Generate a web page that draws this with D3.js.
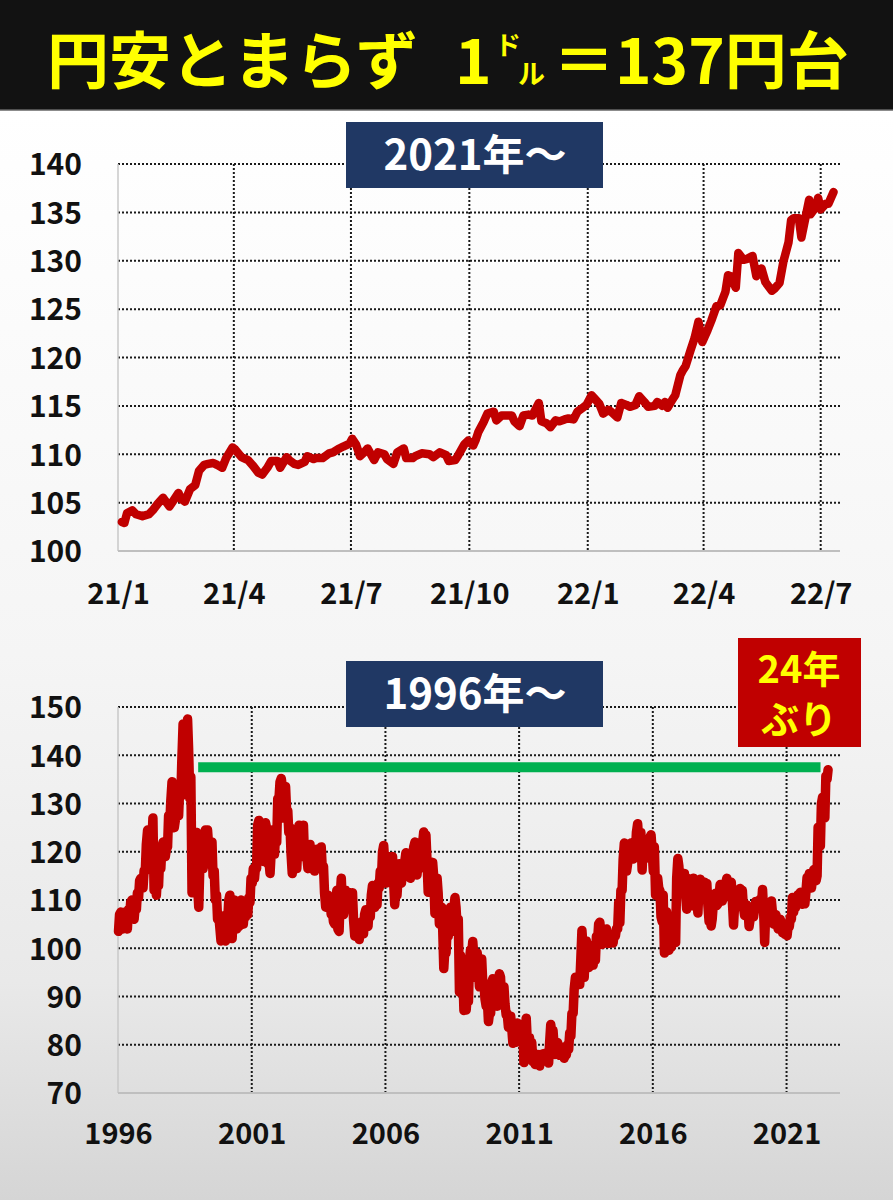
<!DOCTYPE html>
<html><head><meta charset="utf-8">
<script src="https://cdn.jsdelivr.net/npm/d3@7"></script>
<style>
html,body{margin:0;padding:0;background:#fff;}
svg{display:block;font-family:"Noto Sans CJK JP","Noto Sans",sans-serif;}
</style>
</head><body>
<svg id="c" width="893" height="1200"></svg>
<script>
// ---------- text ----------
const titleLeft = "円安とまらず";
const titleOne = "1";
const titleDo = "ド";
const titleRu = "ル";
const titleRight = "＝137円台";
const topLabel = "2021年〜";
const bottomLabel = "1996年〜";
const badgeLines = ["24年", "ぶり"];

// ---------- top chart (2021〜) ----------
const topYTicks = [100, 105, 110, 115, 120, 125, 130, 135, 140];
const topXTickDates = ["2021-01-01","2021-04-01","2021-07-01","2021-10-01","2022-01-01","2022-04-01","2022-07-01"];
const topXTickLabels = ["21/1","21/4","21/7","21/10","22/1","22/4","22/7"];
const topDates = [
"2021-01-04","2021-01-06","2021-01-08","2021-01-12","2021-01-15","2021-01-20","2021-01-25","2021-01-28",
"2021-02-01","2021-02-05","2021-02-10","2021-02-12","2021-02-17","2021-02-19","2021-02-22","2021-02-26",
"2021-03-02","2021-03-05","2021-03-09","2021-03-12","2021-03-16","2021-03-19","2021-03-23","2021-03-26","2021-03-31",
"2021-04-02","2021-04-07","2021-04-12","2021-04-16","2021-04-20","2021-04-23","2021-04-27","2021-04-30",
"2021-05-05","2021-05-07","2021-05-12","2021-05-14","2021-05-18","2021-05-21","2021-05-26","2021-05-28",
"2021-06-02","2021-06-04","2021-06-09","2021-06-14","2021-06-17","2021-06-22","2021-06-25","2021-06-30",
"2021-07-02","2021-07-05","2021-07-08","2021-07-12","2021-07-14","2021-07-19","2021-07-22","2021-07-27","2021-07-29",
"2021-08-03","2021-08-06","2021-08-11","2021-08-13","2021-08-18","2021-08-20","2021-08-25","2021-08-31",
"2021-09-03","2021-09-08","2021-09-13","2021-09-15","2021-09-20","2021-09-22","2021-09-27","2021-09-30",
"2021-10-04","2021-10-06","2021-10-08","2021-10-12","2021-10-15","2021-10-20","2021-10-22","2021-10-26","2021-10-29",
"2021-11-03","2021-11-05","2021-11-09","2021-11-12","2021-11-16","2021-11-19","2021-11-24","2021-11-26","2021-11-30",
"2021-12-03","2021-12-07","2021-12-10","2021-12-14","2021-12-17","2021-12-21","2021-12-24","2021-12-28","2021-12-31",
"2022-01-04","2022-01-06","2022-01-10","2022-01-13","2022-01-17","2022-01-20","2022-01-24","2022-01-27","2022-01-31",
"2022-02-03","2022-02-07","2022-02-10","2022-02-14","2022-02-17","2022-02-22","2022-02-24","2022-02-28",
"2022-03-02","2022-03-04","2022-03-08","2022-03-10","2022-03-14","2022-03-16","2022-03-18","2022-03-22","2022-03-25","2022-03-28","2022-03-31",
"2022-04-04","2022-04-07","2022-04-11","2022-04-14","2022-04-18","2022-04-20","2022-04-22","2022-04-26","2022-04-28",
"2022-05-02","2022-05-05","2022-05-09","2022-05-12","2022-05-16","2022-05-19","2022-05-24","2022-05-26","2022-05-30",
"2022-06-02","2022-06-06","2022-06-08","2022-06-10","2022-06-14","2022-06-16","2022-06-20","2022-06-22","2022-06-23","2022-06-27","2022-06-29",
"2022-07-01","2022-07-05","2022-07-07","2022-07-11"];
const topValues = [
103.0,102.9,103.9,104.2,103.8,103.6,103.8,104.2,
104.9,105.5,104.6,105.0,106.0,105.4,105.1,106.4,
106.8,108.3,108.9,109.0,109.1,108.9,108.6,109.6,110.7,
110.5,109.7,109.4,108.8,108.1,107.9,108.6,109.3,
109.3,108.6,109.7,109.4,109.0,108.9,109.2,109.8,
109.5,109.6,109.6,110.1,110.2,110.6,110.8,111.1,
111.6,111.0,109.8,110.3,110.6,109.4,110.2,110.0,109.5,
109.0,110.2,110.6,109.6,109.6,109.8,110.1,110.0,
109.7,110.2,109.9,109.3,109.4,109.8,111.0,111.4,
110.9,111.5,112.3,113.3,114.2,114.4,113.5,114.0,114.0,
114.0,113.4,112.9,114.0,114.1,114.0,115.3,113.4,113.2,
112.8,113.5,113.4,113.6,113.7,113.6,114.4,114.8,115.1,
116.1,115.8,115.2,114.2,114.6,114.3,113.8,115.3,115.1,
114.9,115.1,116.0,115.4,114.9,115.0,115.4,115.0,
115.4,114.8,115.7,116.1,118.2,118.7,119.1,120.8,122.0,123.7,121.6,
122.8,123.8,125.3,125.4,126.8,128.5,128.4,127.2,130.8,
130.1,130.2,130.5,128.4,129.2,127.8,126.9,127.1,127.7,
129.9,131.9,134.2,134.4,134.4,132.4,135.0,136.3,134.8,135.5,136.5,
135.3,135.9,135.9,137.1];

// ---------- bottom chart (1996〜) ----------
const longYTicks = [70, 80, 90, 100, 110, 120, 130, 140, 150];
const longXTickYears = [1996, 2001, 2006, 2011, 2016, 2021];
const longYears = [1996,1997,1998,1999,2000,2001,2002,2003,2004,2005,2006,2007,2008,2009,2010,2011,2012,2013,2014,2015,2016,2017,2018,2019,2020,2021,2022];
// intramonth swing value (early in month) and month close, one row per year
const longSwing = [
[103.5,107.5,104,107.5,104,107,110,106,108,110.5,114.5,112.5],
[116,124.5,120,122,112,111,113,116.5,122,119,121,125.5],
[134.5,125,128,127.5,131.5,146.5,137,147.5,131,111.5,114,124],
[108.5,122,116.5,124.5,124.5,117.5,122,116,111,107,101.5,105],
[101.5,106,111,102,110,104,104.5,110,105,106.5,107,109.5],
[113.5,114.5,116.5,126.5,122.5,118,126,117.5,115.5,124.5,119.5,122],
[131,135.2,127,133.5,128.5,125,115.5,121,116.5,125.5,119,125.5],
[121.5,116.5,121.5,117,116,120.5,117.5,121,117,108.5,111,110],
[107.5,105,112,103.5,114.5,107,112,108.5,111.5,111.5,102.5,105],
[101.8,105.5,103,108,104.5,106.5,113,108.5,109,112.5,114.5,121.3],
[113.5,119,115.5,119,109,111,117.5,113.5,115,119.8,118,114.5],
[118.5,122,115.2,116.5,118.5,124.1,123.5,111.6,113.5,117.8,107.2,114.5],
[105,108.5,95.8,99,102.5,108.5,103.5,110.5,104,90.9,93.5,87.1],
[87.2,89,99.7,101.4,94,99,92,97.8,92.5,88,84.8,86.5],
[93.7,88.5,88,94.7,89,92,86.2,83.6,85.9,80.3,80.5,84.5],
[83.5,84,76.3,85.5,80,80,76.5,75.9,78,75.6,76.5,78.2],
[77.5,76.2,84.2,83,78,80.5,77.8,79.5,77.2,78,79.1,81.8],
[86.5,94,92.5,92.5,103.7,94,101.5,96,100.5,96.5,97.5,101.5],
[105.4,100.8,101,104,101,102.8,101.1,102.5,104,105.3,112,121.8],
[116,120.5,121.8,118.5,119.5,125.8,121,116.2,118.5,121.5,120.5,123.5],
[115.9,111,114.5,111.9,105.5,99,107.5,99.6,100.2,101,101.2,118.6],
[112.5,114.9,115.5,108.1,114.4,108.8,114.5,108.6,107.3,114.3,110.8,113.7],
[113.4,105.5,104.6,109.5,111.4,109.2,113.2,109.8,110.5,114.5,111.4,113.7],
[104.8,109,112.1,112.4,112,106.8,109,104.5,108.4,106.5,109.7,109.7],
[110.2,112.2,101.2,109.4,105.9,109.8,105,107,104,106,103.2,102.9],
[102.6,104.5,106,107.5,108.5,111.1,111.6,109.1,109.2,114.7,115.5,112.5],
[116.3,114,125.1,121.2,131.3,127,135]
];
const longClose = [
[107,104.5,106.5,104.5,108,109.5,106.5,108.5,111.5,114,113.5,116],
[121.5,120.5,124,127,116.5,114.5,118.5,121,120.5,120.5,127.5,130.5],
[127,126.5,133.5,133,139,139,144.5,141.5,135.5,116,123,113.5],
[116.5,118.5,118.5,119.5,121.5,121,115,110,106,104.5,102,102],
[107,110,103,106.5,107.5,106,109.5,106.5,108,109,110.5,114.5],
[116.5,117,125.5,123.5,119,124.5,125,118.5,119.5,122,123.5,131],
[134.5,133.5,132.5,128.5,124,119.5,120,118.5,121.5,122.5,122.5,119],
[119,118,118,119,119,119.5,120,116.5,111.5,109.5,109.5,107],
[105.5,109,104,110.5,109.5,108.5,111.5,109.5,110.5,106,103,103],
[103.5,104.5,107,105,108,111,112.5,111,113.5,116,120,118],
[117,116,117.5,114,112.5,114.5,114.5,117.5,118,117,115.5,119],
[121,118.5,117.5,119.5,121.5,123,118.5,115.5,115,115,111,111.5],
[106.5,104,99.5,104,105.5,106,108,108.5,106,98.5,95.5,90.5],
[90,97.5,98.5,98.5,95.5,96.5,95,93,89.5,90,86.5,93],
[90,89,93.5,94,91,88.5,86.5,84,83.5,80.5,83.5,81.5],
[82,82,83,81,81.5,80.5,77,76.5,77,78,77.5,77],
[76.5,80.5,82.5,80,78.5,79.5,78,78.5,78,80,82.5,86.5],
[91.5,92.5,94,97.5,100.5,99,98,98,98,98.5,102.5,105],
[102,102,103,102.5,102,101.5,103,104,109.5,112,118.5,119.5],
[117.5,119.5,120,119.5,124,122.5,124,121,120,120.5,123,120.5],
[121,112.5,112.5,106.5,111,103,102,103,101,105,114.5,117],
[113,112,111.5,111.5,111,112.5,110,110,112.5,113.5,112,112.5],
[109,106.5,106,109,108.8,110.5,112,111,113.5,113,113.5,110],
[109,111.5,111,111.5,108.5,108,108.5,106,108,108,109.5,108.5],
[108.5,108,107.5,107,107.5,107.5,106,106,105.5,104.5,104,103.5],
[104.5,106.5,110.5,109.5,109.5,111,109.5,110,111.5,114,113,115],
[115,115,122,130,127,135.7,137]
];
// 137-yen reference level (green bar)
const refLevel = 137.5;
const refStart = "1998-12-31";
const refEnd = "2022-04-10";

// ---------- drawing ----------
const svg = d3.select("#c");
const W = 893, H = 1200;
const parse = d3.timeParse("%Y-%m-%d");
const FONT = '"Noto Sans CJK JP","Noto Sans",sans-serif';

const defs = svg.append("defs");
const grad = defs.append("linearGradient").attr("id","bg").attr("x1",0).attr("y1",0).attr("x2",0).attr("y2",1);
grad.append("stop").attr("offset","0").attr("stop-color","#ffffff");
grad.append("stop").attr("offset","0.5").attr("stop-color","#f5f5f5");
grad.append("stop").attr("offset","0.8").attr("stop-color","#e9e9e9");
grad.append("stop").attr("offset","1").attr("stop-color","#d5d5d5");

svg.append("rect").attr("x",0).attr("y",110).attr("width",W).attr("height",H-110).attr("fill","url(#bg)");

// title bar
svg.append("rect").attr("x",0).attr("y",0).attr("width",W).attr("height",110).attr("fill","#121212");
svg.append("line").attr("x1",0).attr("x2",W).attr("y1",110).attr("y2",110).attr("stroke","#666").attr("stroke-width",1.5);
const tg = svg.append("g").attr("fill","#ffff00").attr("font-weight",700).attr("font-family",FONT);
tg.append("text").attr("x",47).attr("y",84).attr("font-size",62).text(titleLeft);
tg.append("text").attr("x",455).attr("y",84).attr("font-size",62).text(titleOne);
tg.append("text").attr("x",495).attr("y",55).attr("font-size",26).text(titleDo);
tg.append("text").attr("x",518).attr("y",84).attr("font-size",27).text(titleRu);
tg.append("text").attr("x",553).attr("y",84).attr("font-size",62).text(titleRight);

const PL = 118, PR = 840;

function grid(g, x, y, xTicks, yTicks, yTop, yBot) {
  const dot = "#1a1a1a";
  yTicks.slice(1).forEach(v => {
    g.append("line").attr("x1",PL).attr("x2",PR).attr("y1",y(v)).attr("y2",y(v))
      .attr("stroke",dot).attr("stroke-width",2).attr("stroke-dasharray","2 2");
  });
  xTicks.slice(1).forEach(d => {
    g.append("line").attr("x1",x(d)).attr("x2",x(d)).attr("y1",yTop).attr("y2",yBot)
      .attr("stroke",dot).attr("stroke-width",2).attr("stroke-dasharray","2 2");
  });
  g.append("line").attr("x1",PL).attr("x2",PL).attr("y1",yTop).attr("y2",yBot).attr("stroke","#c8c8c8").attr("stroke-width",1.5);
  g.append("line").attr("x1",PL).attr("x2",PR).attr("y1",yBot).attr("y2",yBot).attr("stroke","#bfbfbf").attr("stroke-width",2);
}

// ===== top chart =====
const xTop = d3.scaleTime().domain([parse("2021-01-01"), parse("2022-07-16")]).range([PL, PR]);
const yTop = d3.scaleLinear().domain([100, 140]).range([551, 164]);
const gTop = svg.append("g");
const topTickD = topXTickDates.map(parse);
grid(gTop, xTop, yTop, topTickD, topYTicks, yTop(140), yTop(100));

gTop.append("g").attr("transform","translate(82,0)")
  .call(d3.axisLeft(yTop).tickValues(topYTicks).tickSize(0).tickPadding(0))
  .call(g => g.select(".domain").remove())
  .selectAll("text").attr("font-size",30).attr("font-weight",700).attr("fill","#111").attr("font-family",FONT).attr("dy","0.36em");
gTop.append("g").attr("transform","translate(0,583)")
  .call(d3.axisBottom(xTop).tickValues(topTickD).tickFormat((d,i)=>topXTickLabels[i]).tickSize(0).tickPadding(0))
  .call(g => g.select(".domain").remove())
  .selectAll("text").attr("font-size",29).attr("font-weight",700).attr("fill","#111").attr("font-family",FONT).attr("dy","0.72em");

svg.append("rect").attr("x",346).attr("y",122).attr("width",257).attr("height",66).attr("fill","#203864");
svg.append("text").attr("x",475).attr("y",170).attr("text-anchor","middle").attr("font-size",42).attr("font-weight",700)
  .attr("fill","#fff").attr("font-family",FONT).text(topLabel);

const topData = topDates.map((d,i)=>({date:parse(d), value:topValues[i]}));
gTop.append("path").datum(topData)
  .attr("d", d3.line().x(d=>xTop(d.date)).y(d=>yTop(d.value)))
  .attr("fill","none").attr("stroke","#c00000").attr("stroke-width",8.5)
  .attr("stroke-linejoin","round").attr("stroke-linecap","round");

// ===== bottom chart =====
const xLong = d3.scaleTime().domain([new Date(1996,0,1), new Date(2023,0,1)]).range([PL, PR]);
const yLong = d3.scaleLinear().domain([70, 150]).range([1093, 707]);
const gLong = svg.append("g");
const longTickD = longXTickYears.map(y => new Date(y,0,1));
grid(gLong, xLong, yLong, longTickD, longYTicks, yLong(150), yLong(70));

gLong.append("g").attr("transform","translate(82,0)")
  .call(d3.axisLeft(yLong).tickValues(longYTicks).tickSize(0).tickPadding(0))
  .call(g => g.select(".domain").remove())
  .selectAll("text").attr("font-size",30).attr("font-weight",700).attr("fill","#111").attr("font-family",FONT).attr("dy","0.36em");
gLong.append("g").attr("transform","translate(0,1123)")
  .call(d3.axisBottom(xLong).tickValues(longTickD).tickFormat(d3.timeFormat("%Y")).tickSize(0).tickPadding(0))
  .call(g => g.select(".domain").remove())
  .selectAll("text").attr("font-size",29).attr("font-weight",700).attr("fill","#111").attr("font-family",FONT).attr("dy","0.72em");

svg.append("rect").attr("x",346).attr("y",661).attr("width",257).attr("height",66).attr("fill","#203864");
svg.append("text").attr("x",475).attr("y",709).attr("text-anchor","middle").attr("font-size",42).attr("font-weight",700)
  .attr("fill","#fff").attr("font-family",FONT).text(bottomLabel);

gLong.append("line").attr("x1",xLong(parse(refStart))).attr("x2",xLong(parse(refEnd)))
  .attr("y1",yLong(refLevel)).attr("y2",yLong(refLevel))
  .attr("stroke","#00b050").attr("stroke-width",10);

const longData = [];
longYears.forEach((yr, yi) => {
  longClose[yi].forEach((c, m) => {
    longData.push({date:new Date(yr, m, 8), value:longSwing[yi][m]});
    longData.push({date:new Date(yr, m, 22), value:c});
  });
});
gLong.append("path").datum(longData)
  .attr("d", d3.line().x(d=>xLong(d.date)).y(d=>yLong(d.value)))
  .attr("fill","none").attr("stroke","#c00000").attr("stroke-width",9.5)
  .attr("stroke-linejoin","round").attr("stroke-linecap","round");

// badge
svg.append("rect").attr("x",738).attr("y",638).attr("width",123).attr("height",109).attr("fill","#c00000");
svg.append("text").attr("x",799).attr("y",683).attr("text-anchor","middle").attr("font-size",38).attr("font-weight",700)
  .attr("fill","#ffff00").attr("font-family",FONT).text(badgeLines[0]);
svg.append("text").attr("x",799).attr("y",733).attr("text-anchor","middle").attr("font-size",38).attr("font-weight",700)
  .attr("fill","#ffff00").attr("font-family",FONT).text(badgeLines[1]);
</script>
</body></html>
